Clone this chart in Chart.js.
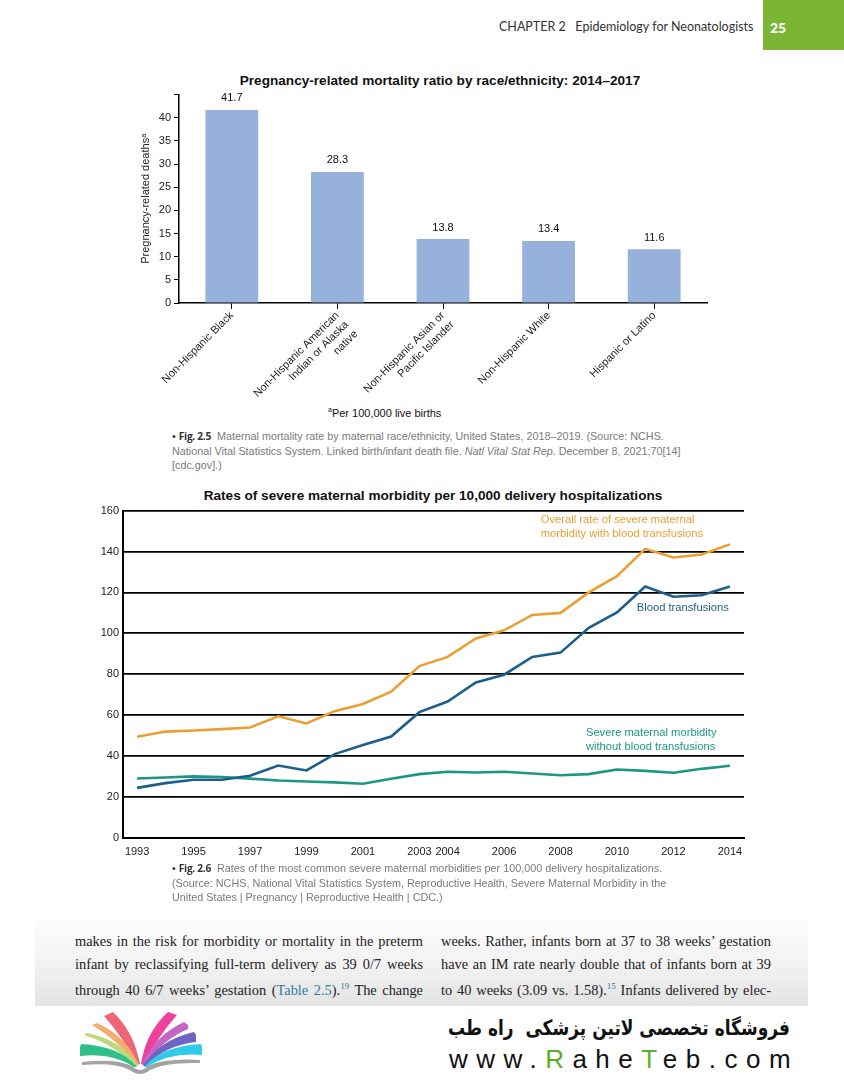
<!DOCTYPE html>
<html lang="en">
<head>
<meta charset="UTF-8">
<title>Epidemiology for Neonatologists - page 25</title>
<script src="https://cdn.jsdelivr.net/npm/chart.js"></script>
<style>
  body { margin: 0; background: #fff; }
  #page { position: relative; width: 844px; height: 1080px; overflow: hidden; font-family: "Liberation Sans", Arial, sans-serif; }
  .abs { position: absolute; white-space: nowrap; }
  .cap { font-size: 10.8px; color: #7a7a7a; line-height: 14.5px; }
  .cap b { font-family: "Open Sans", sans-serif; font-weight: 700; color: #333; font-size: 10.2px; letter-spacing: -0.3px; }
  .ttl { font-weight: bold; font-size: 13.6px; color: #111; }
  #strip { position: absolute; left: 35px; top: 920px; width: 773px; height: 86px; overflow: hidden;
           background: linear-gradient(to bottom, #fdfdfd 0%, #f1f1f1 55%, #e3e3e3 100%); }
  .col { position: absolute; top: 10px; font-family: "Liberation Serif", serif; font-size: 14.4px; line-height: 22.5px; color: #222; }
  .col div { text-align: justify; text-align-last: justify; white-space: nowrap; }
  .ref { color: #2a7f9a; }
</style>
</head>
<body>
<div id="page">
  <!-- running header -->
  <div class="abs" style="left:499px; top:19px; font-family:Lato,sans-serif; font-size:12.5px; color:#333;">CHAPTER 2&nbsp;&nbsp;&nbsp;Epidemiology for Neonatologists</div>
  <div class="abs" style="left:763px; top:0; width:81px; height:50px; background:#7ab536;"></div>
  <div class="abs" style="left:770px; top:19px; font-family:Lato,sans-serif; font-weight:900; font-size:14px; color:#fff;">25</div>

  <!-- figure 2.5 -->
  <div class="abs ttl" style="left:180px; width:520px; top:73px; text-align:center;">Pregnancy-related mortality ratio by race/ethnicity: 2014–2017</div>
  <canvas id="barChart" class="abs" width="600" height="313" style="left:137px; top:85px;"></canvas>
  <div class="abs" style="left:328px; top:406px; font-size:11px; color:#111;"><sup style="font-size:7px;">a</sup>Per 100,000 live births</div>
  <div class="abs cap" style="left:172px; top:429px;">
    <span style="color:#333;">•</span> <b>Fig. 2.5</b>&nbsp; Maternal mortality rate by maternal race/ethnicity, United States, 2018–2019. (Source: NCHS.<br>
    National Vital Statistics System. Linked birth/infant death file. <i>Natl Vital Stat Rep.</i> December 8, 2021;70[14]<br>
    [cdc.gov].)
  </div>

  <!-- figure 2.6 -->
  <div class="abs ttl" style="left:120px; width:626px; top:488px; text-align:center;">Rates of severe maternal morbidity per 10,000 delivery hospitalizations</div>
  <canvas id="lineChart" class="abs" width="664" height="365" style="left:92px; top:500px;"></canvas>
  <div class="abs cap" style="left:172px; top:861px;">
    <span style="color:#333;">•</span> <b>Fig. 2.6</b>&nbsp; Rates of the most common severe maternal morbidities per 100,000 delivery hospitalizations.<br>
    (Source: NCHS, National Vital Statistics System, Reproductive Health, Severe Maternal Morbidity in the<br>
    United States | Pregnancy | Reproductive Health | CDC.)
  </div>

  <!-- body text -->
  <div id="strip">
    <div class="col" style="left:40px; width:348px;">
      <div>makes in the risk for morbidity or mortality in the preterm</div>
      <div>infant by reclassifying full-term delivery as 39 0/7 weeks</div>
      <div>through 40 6/7 weeks’ gestation (<span class="ref">Table 2.5</span>).<sup class="ref" style="font-size:9px;">19</sup> The change</div>
      <div>in terminology acknowledges that the morbidity and mor-</div>
    </div>
    <div class="col" style="left:406px; width:330px;">
      <div>weeks. Rather, infants born at 37 to 38 weeks’ gestation</div>
      <div>have an IM rate nearly double that of infants born at 39</div>
      <div>to 40 weeks (3.09 vs. 1.58).<sup class="ref" style="font-size:9px;">15</sup> Infants delivered by elec-</div>
      <div>tive cesarean section at 37 to 38 weeks’ gestation are twice</div>
    </div>
  </div>

  <!-- shop logo -->
  <svg class="abs" style="left:60px; top:1000px;" width="180" height="80" viewBox="0 0 180 80">
    <path d="M44 16 L53 12 Q74 32 80 64 L77 64 Q62 36 44 16 Z" fill="#ef6677"/>
    <path d="M32 25 L37 23 Q66 36 79 65 L76 65 Q58 40 32 25 Z" fill="#f4ad6c"/>
    <path d="M24 35 L27 33 Q62 40 78 66 L75 66 Q55 45 24 35 Z" fill="#bcd97a"/>
    <path d="M20 47 L21 44 Q60 46 77 67 L74 67 Q52 52 20 56 Z" fill="#2fbf8b"/>
    <path d="M117 15 L108 12 Q86 32 81 64 L84 64 Q98 36 117 15 Z" fill="#f0409e"/>
    <path d="M128 25 L124 22 Q94 36 82 65 L85 65 Q102 40 128 29 Z" fill="#c565c6"/>
    <path d="M136 35 L134 32 Q99 40 83 66 L86 66 Q106 45 136 42 Z" fill="#6d63c3"/>
    <path d="M142 47 L141 44 Q102 46 84 67 L87 67 Q110 52 142 55 Z" fill="#2fcbe8"/>
    <path d="M22 62 Q55 58 72 66 Q80 74 88 66 Q105 58 140 60 L140 63 Q106 62 90 70 Q80 78 70 70 Q55 62 22 65 Z" fill="#a3a3a3"/>
  </svg>
  <div class="abs" style="left:390px; width:400px; top:1016px; text-align:right; direction:rtl; font-family:'DejaVu Sans',sans-serif; font-weight:bold; font-size:21px; color:#111; transform:scaleX(0.81); transform-origin:right center;">فروشگاه تخصصی لاتین پزشکی&nbsp; راه طب</div>
  <div class="abs" style="left:449px; top:1044px; font-family:'Liberation Sans',sans-serif; font-size:26px; letter-spacing:8.5px; color:#111;">www.<span style="color:#5aae2e;">R</span>ahe<span style="color:#5aae2e;">T</span>eb.com</div>
</div>

<script>
// ---- Fig 2.5 data ----
const groups = [
  ['Non-Hispanic Black'],
  ['Non-Hispanic American', 'Indian or Alaska', 'native'],
  ['Non-Hispanic Asian or', 'Pacific Islander'],
  ['Non-Hispanic White'],
  ['Hispanic or Latino']
];
const deathRatio = [41.7, 28.3, 13.8, 13.4, 11.6];

// ---- Fig 2.6 data ----
const years = [1993, 1994, 1995, 1996, 1997, 1998, 1999, 2000, 2001, 2002, 2003,
               2004, 2005, 2006, 2007, 2008, 2009, 2010, 2011, 2012, 2013, 2014];
const overallRate = [49.5, 52, 52.5, 53.2, 54, 59.5, 56, 62, 65.5, 71.5, 84,
                     88.5, 97.5, 101.5, 109, 110, 120, 128, 141.3, 137.1, 138.5, 143.5];
const transfusionRate = [24.5, 26.8, 28.5, 28.5, 30.4, 35.4, 33, 41, 45.4, 49.6, 61.5,
                         66.7, 76, 79.8, 88.5, 90.6, 102.7, 110.2, 122.9, 117.9, 118.6, 122.9];
const noTransfusionRate = [29.1, 29.6, 30.1, 29.8, 29, 28.1, 27.6, 27.2, 26.5, 29, 31.2,
                           32.4, 32, 32.4, 31.5, 30.7, 31.2, 33.5, 32.8, 31.9, 33.8, 35.3];
const yearTicks = [1993, 1995, 1997, 1999, 2001, 2003, 2004, 2006, 2008, 2010, 2012, 2014];

const ORANGE = '#e99f33', BLUE = '#1d5f8c', TEAL = '#1b9884';

Chart.defaults.font.family = '"Liberation Sans", Arial, sans-serif';
Chart.defaults.color = '#222';

// value labels above the bars
const barValues = {
  id: 'barValues',
  afterDatasetsDraw(chart) {
    const ctx = chart.ctx;
    ctx.save();
    ctx.font = '11px "Liberation Sans", Arial, sans-serif';
    ctx.fillStyle = '#111';
    ctx.textAlign = 'center';
    ctx.textBaseline = 'bottom';
    chart.getDatasetMeta(0).data.forEach((bar, i) => {
      ctx.fillText(deathRatio[i].toFixed(1), bar.x, bar.y - 6);
    });
    ctx.restore();
  }
};

new Chart(document.getElementById('barChart'), {
  type: 'bar',
  data: {
    labels: groups,
    datasets: [{ data: deathRatio, backgroundColor: '#95b1dc', barPercentage: 0.5, categoryPercentage: 1 }]
  },
  options: {
    responsive: false,
    animation: false,
    layout: { padding: { top: 5, right: 30, bottom: 0, left: 0 } },
    plugins: { legend: { display: false }, tooltip: { enabled: false } },
    scales: {
      x: {
        grid: { offset: false, drawOnChartArea: false, tickLength: 6, color: '#000' },
        border: { color: '#000', width: 1.5 },
        ticks: { minRotation: 45, maxRotation: 45, font: { size: 11 }, padding: 0, color: '#222' },
        afterFit(scale) { scale.height = 95; }
      },
      y: {
        min: 0, max: 45,
        grid: { drawOnChartArea: false, tickLength: 5, color: '#000' },
        border: { color: '#000', width: 1.5 },
        ticks: { stepSize: 5, font: { size: 11 }, padding: 3, color: '#222',
                 callback: v => (v === 45 ? '' : v) },
        title: { display: true, text: 'Pregnancy-related deathsᵃ', font: { size: 11 }, color: '#222', padding: { top: 2, bottom: 0 } },
        afterFit(scale) { scale.width = 42; }
      }
    }
  },
  plugins: [barValues]
});

// series captions placed in data coordinates
const seriesNotes = [
  { lines: ['Overall rate of severe maternal', 'morbidity with blood transfusions'], x: 2007.3, y: 155.5, color: ORANGE },
  { lines: ['Blood transfusions'], x: 2010.7, y: 112.2, color: BLUE },
  { lines: ['Severe maternal morbidity', 'without blood transfusions'], x: 2008.9, y: 51.5, color: TEAL }
];
const notesPlugin = {
  id: 'seriesNotes',
  afterDatasetsDraw(chart) {
    const { ctx, scales } = chart;
    ctx.save();
    ctx.font = '11.2px "Liberation Sans", Arial, sans-serif';
    ctx.textAlign = 'left';
    ctx.textBaseline = 'middle';
    seriesNotes.forEach(n => {
      ctx.fillStyle = n.color;
      const px = scales.x.getPixelForValue(n.x);
      const py = scales.y.getPixelForValue(n.y);
      n.lines.forEach((t, i) => ctx.fillText(t, px, py + i * 14));
    });
    ctx.restore();
  }
};

const toPoints = vals => years.map((yr, i) => ({ x: yr, y: vals[i] }));

new Chart(document.getElementById('lineChart'), {
  type: 'line',
  data: {
    datasets: [
      { data: toPoints(overallRate), borderColor: ORANGE },
      { data: toPoints(transfusionRate), borderColor: BLUE },
      { data: toPoints(noTransfusionRate), borderColor: TEAL }
    ]
  },
  options: {
    responsive: false,
    animation: false,
    layout: { padding: { top: 6, right: 12, bottom: 0, left: 0 } },
    elements: { point: { radius: 0 }, line: { borderWidth: 2.6, tension: 0 } },
    plugins: { legend: { display: false }, tooltip: { enabled: false } },
    scales: {
      x: {
        type: 'linear', min: 1992.5, max: 2014.5,
        grid: { display: false, drawTicks: false },
        border: { color: '#000', width: 2 },
        afterBuildTicks(scale) { scale.ticks = yearTicks.map(v => ({ value: v })); },
        ticks: { font: { size: 11 }, padding: 7, color: '#222', callback: v => String(v) },
        afterFit(scale) { scale.height = 27; }
      },
      y: {
        min: 0, max: 160,
        grid: { color: '#000', lineWidth: 1.8, drawTicks: false },
        border: { color: '#000', width: 2 },
        ticks: { stepSize: 20, font: { size: 11 }, padding: 4, color: '#222' },
        afterFit(scale) { scale.width = 31; }
      }
    }
  },
  plugins: [notesPlugin]
});
</script>
</body>
</html>
